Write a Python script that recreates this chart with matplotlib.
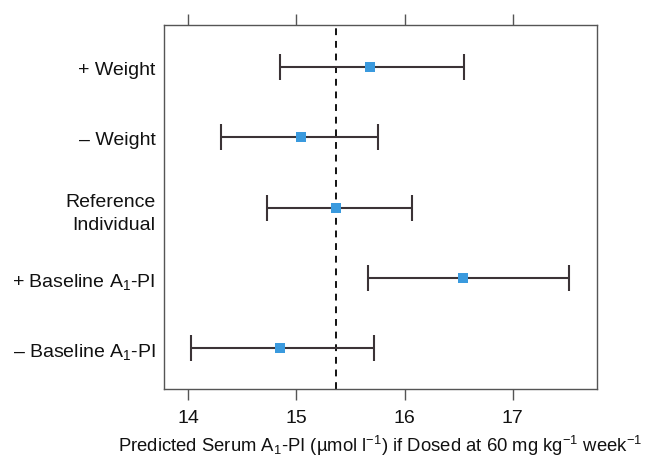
import matplotlib
matplotlib.use("Agg")
import matplotlib.pyplot as plt
import matplotlib.transforms as mtransforms

plt.rcParams['font.family'] = ['Liberation Sans', 'DejaVu Sans']
plt.rcParams['mathtext.fontset'] = 'custom'
plt.rcParams['mathtext.rm'] = 'Liberation Sans'
plt.rcParams['mathtext.it'] = 'Liberation Sans:italic'
plt.rcParams['mathtext.bf'] = 'Liberation Sans:bold'
plt.rcParams['mathtext.default'] = 'regular'

categories = ["+ Weight", "\u2013 Weight", "Reference\nIndividual",
              "+ Baseline A$_1$-PI", "\u2013 Baseline A$_1$-PI"]
median = [15.68, 15.04, 15.37, 16.54, 14.85]
lower = [14.85, 14.30, 14.73, 15.66, 14.03]
upper = [16.55, 15.755, 16.07, 17.52, 15.72]
reference_value = 15.37
xticks = [14, 15, 16, 17]

fig = plt.figure(figsize=(6.54, 4.58), dpi=100)
ax = fig.add_axes([164/654, 1-389/458, (597-164)/654, (389-24.7)/458])

ypos = list(range(len(categories), 0, -1))
xerr = [[m - l for m, l in zip(median, lower)], [u - m for m, u in zip(median, upper)]]
ax.errorbar(median, ypos, xerr=xerr, fmt='none', ecolor='#3b3336',
            elinewidth=1.5, capsize=9.5, capthick=1.5, zorder=2)
ax.plot(median, ypos, 's', color='#3a9ade', markersize=6.5, markeredgewidth=0, zorder=3)
ax.axvline(reference_value, color='#111111', linestyle=(0, (3.5, 3)), linewidth=1.4, zorder=1)

ax.set_xlim(13.776, 17.78)
ax.set_ylim(0.41, 5.61)
ax.set_yticks(ypos)
ax.set_yticklabels(categories, fontsize=14, color='#111111', linespacing=1.45)
ax.tick_params(axis='y', length=0, pad=6)
offset = mtransforms.ScaledTranslation(0, -1.5/100, fig.dpi_scale_trans)
for lbl in ax.get_yticklabels():
    lbl.set_transform(lbl.get_transform() + offset)
ax.set_xticks(xticks)
ax.set_xticklabels([str(t) for t in xticks], fontsize=14, color='#111111')
ax.tick_params(axis='x', which='both', direction='out', length=8, width=1.0,
               color='#555555', top=True, labeltop=False, pad=7)
for s in ax.spines.values():
    s.set_color('#555555')
    s.set_linewidth(1.0)
ax.set_xlabel("Predicted Serum A$_1$-PI (\u00b5mol l$^{-1}$) if Dosed at 60 mg kg$^{-1}$ week$^{-1}$",
              fontsize=13.3, color='#111111', labelpad=5)

fig.savefig("out.png", dpi=100)
